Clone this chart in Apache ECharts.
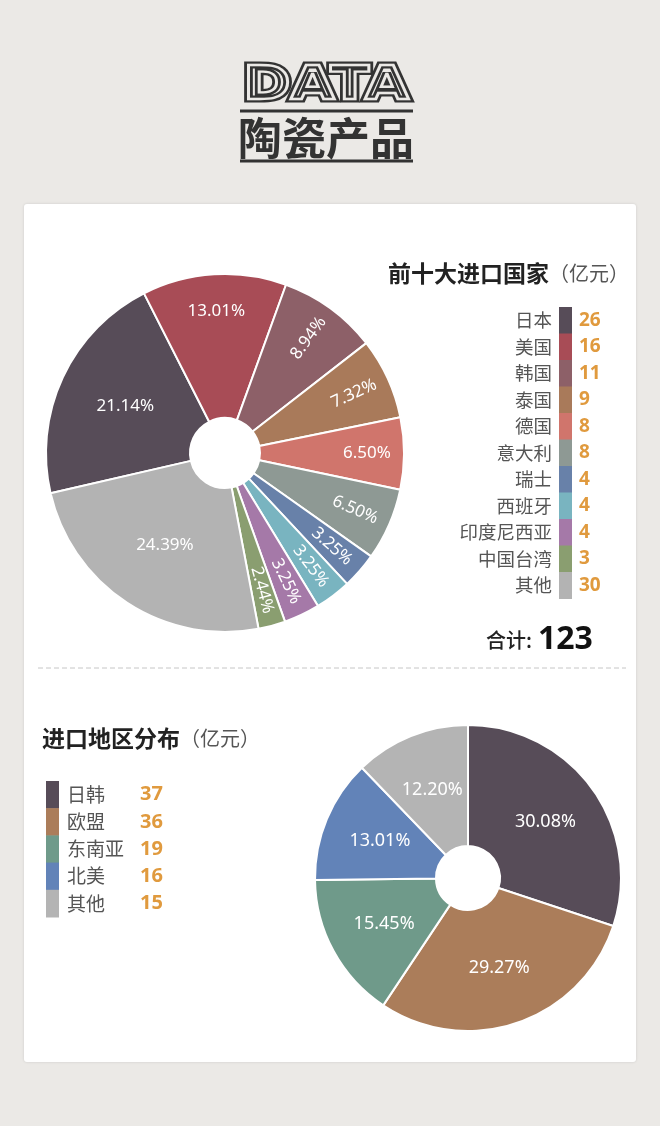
<!DOCTYPE html>
<html><head><meta charset="utf-8">
<script src="https://cdn.jsdelivr.net/npm/echarts@6/dist/echarts.min.js"></script>
<style>html,body{margin:0;padding:0;background:#ebe9e6}#c{width:660px;height:1126px}</style>
</head><body><div id="c"></div>
<script>
// ---- data ----
const countryNames = ['日本','美国','韩国','泰国','德国','意大利','瑞士','西班牙','印度尼西亚','中国台湾','其他'];
const countryValues = [26,16,11,9,8,8,4,4,4,3,30];
const regionNames = ['日韩','欧盟','东南亚','北美','其他'];
const regionValues = [37,36,19,16,15];
const titleMain = '陶瓷产品';
const titleTop = '前十大进口国家';
const titleBottom = '进口地区分布';
const unitText = '（亿元）';
const totalLabel = '合计:';

// ---- styles ----
const countryColors = ['#574c58','#a84c56','#8d6068','#a97a5a','#d0756c','#8e9994','#6881a9','#79b4c0','#a579a8','#8a9e70','#b3b3b3'];
const regionColors = ['#574c58','#ab7d5a','#6f9a8a','#6283b8','#b4b4b4'];
const innerLabelCountries = ['日本','其他'];           // labels nearer the hole
const flatLabelCountries = ['日本','美国','德国','其他']; // horizontal labels
const BG = '#ebe9e6', ORANGE = '#e09a3e', CJK = '"Noto Sans CJK SC","Noto Sans",sans-serif';

const countryTotal = countryValues.reduce((a,b)=>a+b,0);
const regionTotal = regionValues.reduce((a,b)=>a+b,0);
const pct = total => p => (p.value / total * 100).toFixed(2) + '%';

const chart = echarts.init(document.getElementById('c'), null, {renderer:'canvas', width:660, height:1126});

const g = [];
// card
g.push({type:'rect', shape:{x:24,y:204,width:612,height:858,r:3}, style:{fill:'#fff', shadowBlur:3, shadowColor:'rgba(0,0,0,0.12)'}, z:-10});
// dashed separator
g.push({type:'line', shape:{x1:38,y1:668,x2:626,y2:668}, style:{stroke:'#c6c6c6', lineWidth:1, lineDash:[5,3]}});
// DATA striped title
const dataTxt = {text:'DATA', x:0, y:0, align:'center', verticalAlign:'middle', font:'bold 46px "DejaVu Sans"'};
g.push({type:'text', x:326, y:87, scaleX:1.24, style:Object.assign({}, dataTxt, {fill:'none', stroke:'#333', lineWidth:7})});
g.push({type:'text', x:326, y:87, scaleX:1.24, style:Object.assign({}, dataTxt, {fill:'none', stroke:BG, lineWidth:2.4})});
g.push({type:'line', shape:{x1:240,y1:111,x2:413,y2:111}, style:{stroke:'#333', lineWidth:3}});
g.push({type:'text', x:326, y:138, style:{text:titleMain, align:'center', verticalAlign:'middle', font:'bold 44px '+CJK, fill:'#333'}});
g.push({type:'line', shape:{x1:240,y1:161,x2:413,y2:161}, style:{stroke:'#333', lineWidth:3}});

// top section title
g.push({type:'text', x:388, y:273, style:{text:'{b|'+titleTop+'}{u|'+unitText+'}', verticalAlign:'middle',
  rich:{b:{font:'bold 23px '+CJK, fill:'#222'}, u:{font:'20px '+CJK, fill:'#555'}}}});
// top legend
const topY0 = 307, topH = 26.5;
countryNames.forEach((n,i)=>{
  const cy = topY0 + topH*(i+0.5);
  g.push({type:'rect', shape:{x:559, y:topY0+topH*i, width:13, height:topH+0.5}, style:{fill:countryColors[i]}});
  g.push({type:'text', x:552, y:cy, style:{text:n, align:'right', verticalAlign:'middle', font:'18.5px '+CJK, fill:'#555'}});
  g.push({type:'text', x:579, y:cy, style:{text:String(countryValues[i]), align:'left', verticalAlign:'middle', font:'bold 19px "Noto Sans",sans-serif', fill:ORANGE}});
});
// total
g.push({type:'text', x:486, y:640, style:{text:'{a|'+totalLabel+'}{b|'+countryTotal+'}', verticalAlign:'middle',
  rich:{a:{font:'500 20px '+CJK, fill:'#222'}, b:{font:'bold 32px "Noto Sans",sans-serif', fill:'#111', padding:[0,0,0,6]}}}});

// bottom section title
g.push({type:'text', x:42, y:738, style:{text:'{b|'+titleBottom+'}{u|'+unitText+'}', verticalAlign:'middle',
  rich:{b:{font:'bold 23px '+CJK, fill:'#222'}, u:{font:'20px '+CJK, fill:'#555'}}}});
// bottom legend
const botY0 = 781, botH = 27.2;
regionNames.forEach((n,i)=>{
  const cy = botY0 + botH*(i+0.5);
  g.push({type:'rect', shape:{x:46, y:botY0+botH*i, width:13, height:botH+0.5}, style:{fill:regionColors[i]}});
  g.push({type:'text', x:67, y:cy, style:{text:n, align:'left', verticalAlign:'middle', font:'19px '+CJK, fill:'#555'}});
  g.push({type:'text', x:140, y:cy, style:{text:String(regionValues[i]), align:'left', verticalAlign:'middle', font:'bold 20px "Noto Sans",sans-serif', fill:ORANGE}});
});

const labelBase = {color:'#fff', fontSize:17, fontFamily:'"Noto Sans",sans-serif'};

const topMain = countryNames.map((n,i)=>({
  name:n, value:countryValues[i], itemStyle:{color:countryColors[i]},
  label:{show: innerLabelCountries.includes(n)}
}));
const topOverlay = countryNames.map((n,i)=>({
  name:n, value:countryValues[i],
  label:{show: !innerLabelCountries.includes(n), rotate: flatLabelCountries.includes(n) ? 0 : 'radial'}
}));
const botData = regionNames.map((n,i)=>({name:n, value:regionValues[i], itemStyle:{color:regionColors[i]}}));

chart.setOption({
  backgroundColor: BG,
  animation:false,
  graphic:{elements:g},
  series:[
    {type:'pie', center:[225,453], radius:[35,179], startAngle:193, clockwise:true, silent:true,
     itemStyle:{borderColor:'#fff', borderWidth:2},
     label:Object.assign({position:'inside', formatter:pct(countryTotal)}, labelBase),
     labelLine:{show:false}, data:topMain, z:2},
    {type:'pie', center:[225,453], radius:[120,158], startAngle:193, clockwise:true, silent:true,
     itemStyle:{color:'rgba(0,0,0,0)', borderWidth:0},
     label:Object.assign({position:'inside', formatter:pct(countryTotal)}, labelBase),
     labelLine:{show:false}, data:topOverlay, z:3},
    {type:'pie', center:[468,878], radius:[32,153], startAngle:90, clockwise:true, silent:true,
     itemStyle:{borderColor:'#fff', borderWidth:2},
     label:Object.assign({position:'inside', formatter:pct(regionTotal)}, labelBase, {fontSize:18}),
     labelLine:{show:false}, data:botData}
  ]
});
</script></body></html>
